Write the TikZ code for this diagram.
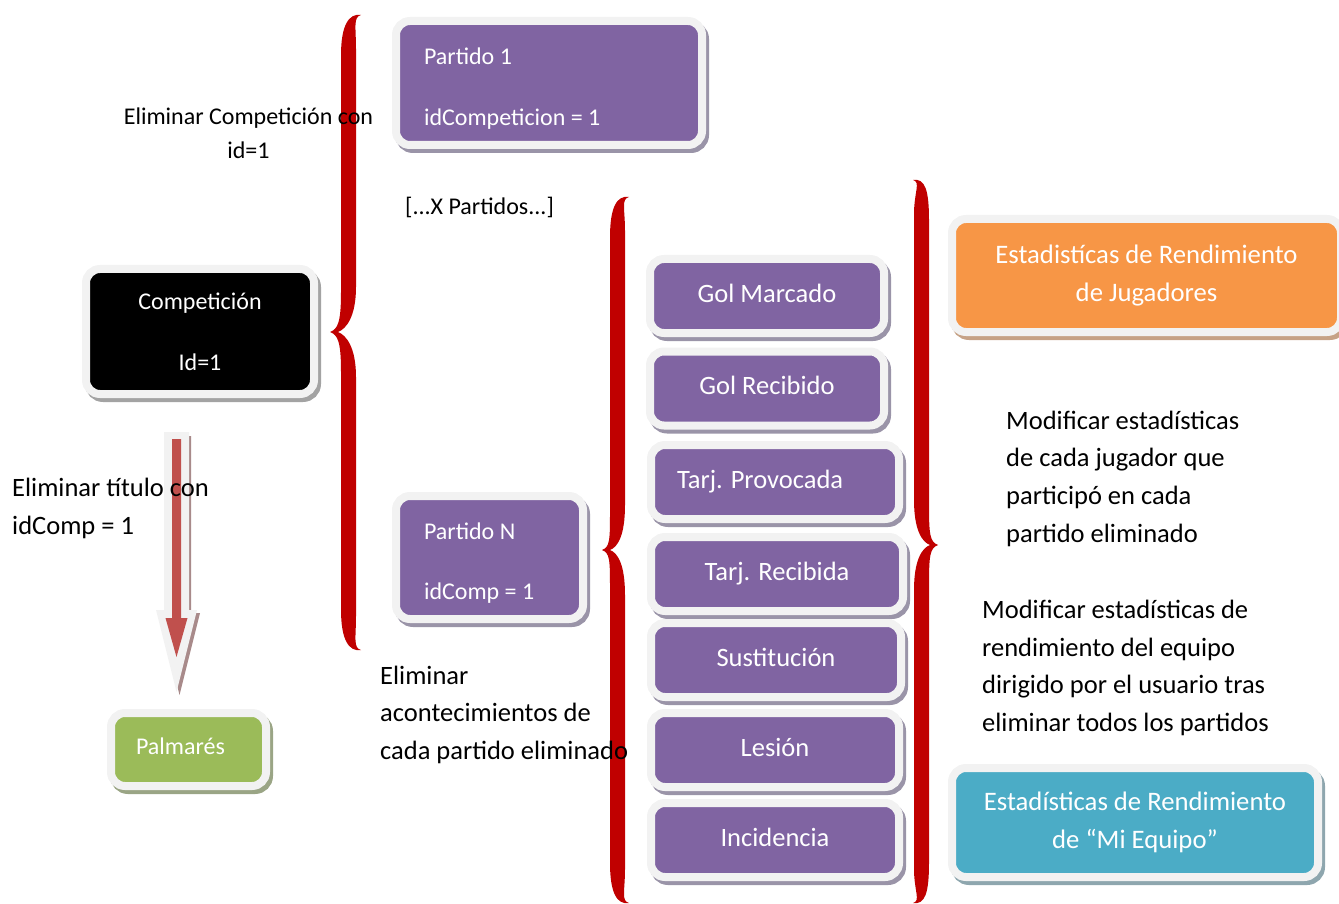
\documentclass[tikz,border=0pt]{standalone}
\usepackage{fontspec}
\setmainfont{Carlito}
\usetikzlibrary{shadows}

\definecolor{purp}{HTML}{8064A2}
\definecolor{purpshadow}{HTML}{9A94A8}
\definecolor{greyshadow}{HTML}{A3A3A3}
\definecolor{greenbox}{HTML}{9BBB59}
\definecolor{greenshadow}{HTML}{9AA585}
\definecolor{orangebox}{HTML}{F79646}
\definecolor{orangeshadow}{HTML}{C6A286}
\definecolor{bluebox}{HTML}{4BACC6}
\definecolor{blueshadow}{HTML}{8EA6AE}
\definecolor{rim}{HTML}{F2F2F2}
\definecolor{bracered}{HTML}{C00000}
\definecolor{arrowred}{HTML}{C0504D}
\definecolor{arrowshadow}{HTML}{A88A8A}

\newcommand\fsz[2]{\fontsize{#1}{#2}\selectfont}

% thick tapered curly brace
% #1 end x, #2 spine x, #3 tip x, #4 top y, #5 middle y, #6 bottom y,
% #7 side: 1 = opening brace, -1 = closing brace
\newcommand\curlybrace[7]{%
\fill[bracered] (#1,#4)
 .. controls ({#1-(#7)*12},{#4-2}) and ({#2-(#7)*8},{#4+10}) .. ({#2-(#7)*8},{#4+40})
 -- ({#2-(#7)*8},{#5-40})
 .. controls ({#2-(#7)*8},{#5-10}) and ({#3+(#7)*8},{#5-3}) .. (#3,#5)
 .. controls ({#3+(#7)*8},{#5+3}) and ({#2-(#7)*8},{#5+10}) .. ({#2-(#7)*8},{#5+40})
 -- ({#2-(#7)*8},{#6-40})
 .. controls ({#2-(#7)*8},{#6-10}) and ({#1-(#7)*12},{#6+2}) .. (#1,#6)
 .. controls ({#1-(#7)*8},{#6-2}) and ({#2+(#7)*7},{#6-12}) .. ({#2+(#7)*7},{#6-34})
 -- ({#2+(#7)*7},{#5+45})
 .. controls ({#2+(#7)*7},{#5+15}) and ({#3+(#7)*16},{#5+3}) .. ({#3+(#7)*8},#5)
 .. controls ({#3+(#7)*16},{#5-3}) and ({#2+(#7)*7},{#5-15}) .. ({#2+(#7)*7},{#5-45})
 -- ({#2+(#7)*7},{#4+34})
 .. controls ({#2+(#7)*7},{#4+12}) and ({#1-(#7)*8},{#4+2}) .. (#1,#4) -- cycle;}

\tikzset{
  tile/.style 2 args={
    rectangle, rounded corners=14pt, draw=rim, line width=8pt, fill=#1,
    text=white, inner sep=0pt,
    general shadow={shadow xshift=3pt, shadow yshift=-4pt,
      fill=#2, draw=#2, line width=8pt}},
  lbl/.style={inner sep=0pt, text=black}
}

\begin{document}
\begin{tikzpicture}[x=1pt,y=-1pt]
\useasboundingbox (0,0) rectangle (1339,904);

% matches and competition
\node[tile={purp}{purpshadow}, minimum width=306pt, minimum height=124pt,
      text width=250pt, align=flush left, font=\fsz{24}{61}] (p1) at (549,83)
      {\rule{0pt}{27pt}Partido 1\\idCompeticion = 1};
\node[tile={black}{greyshadow}, minimum width=228pt, minimum height=125pt,
      align=center, font=\fsz{24}{61}] (comp) at (200,331.5)
      {Competición\\Id=1};
\node[tile={purp}{purpshadow}, minimum width=187pt, minimum height=123pt,
      text width=131pt, align=flush left, font=\fsz{24}{60}] (pn) at (489.5,557.5)
      {\rule{0pt}{27pt}Partido N\\idComp = 1};
\node[tile={greenbox}{greenshadow}, minimum width=155pt, minimum height=73pt,
      text width=105pt, align=flush left, font=\fsz{24}{30},
      text height=17pt, text depth=8pt] (palm) at (188.5,749.5)
      {Palmarés};

% match events
\begin{scope}[every node/.style={tile={purp}{purpshadow}, minimum height=74pt,
      align=center, font=\fsz{26.5}{32}, text height=18pt, text depth=6pt}]
\node[minimum width=234pt] (gm) at (767,296) {Gol Marcado};
\node[minimum width=234pt] (gr) at (767,388.5) {Gol Recibido};
\node[minimum width=248pt, text width=196pt, align=flush left] (tp) at (775,482) {Tarj. Provocada};
\node[minimum width=252pt] (tr) at (777,574) {Tarj. Recibida};
\node[minimum width=250pt] (su) at (776,660) {Sustitución};
\node[minimum width=248pt] (le) at (775,750) {Lesión};
\node[minimum width=248pt] (in) at (775,840) {Incidencia};
\end{scope}

% statistics
\node[tile={orangebox}{orangeshadow}, minimum width=389pt, minimum height=113pt,
      align=center, font=\fsz{26.7}{38}] (ej) at (1146.5,275.5)
      {Estadistícas de Rendimiento\\de Jugadores};
\node[tile={bluebox}{blueshadow}, minimum width=366pt, minimum height=109pt,
      align=center, font=\fsz{26.7}{38}] (em) at (1135,822.5)
      {Estadísticas de Rendimiento\\de “Mi Equipo”};

% braces
\curlybrace{361}{349}{330}{15}{332}{650}{1}
\curlybrace{629}{618}{602}{197}{550}{903}{1}
\curlybrace{913}{921}{938}{180}{545}{903}{-1}

% block arrow from the competition down to the trophies
\coordinate (arrtop) at (176.5,432);
\coordinate (arrtip) at (176.5,692);
\fill[arrowshadow] (167,436) -- (191,436) -- (191,613) -- (200,613)
  -- (179.5,695) -- (159,613) -- (167,613) -- cycle;
\fill[rim] (164,432) -- (189,432) -- (189,610) -- (197,610)
  -- (arrtip) -- (156,610) -- (164,610) -- cycle;
\fill[arrowred] (172,439) -- (181,439) -- (181,618) -- (187.5,618)
  -- (176.5,657) -- (165.5,618) -- (172,618) -- cycle;

% labels
\node[lbl, align=center, font=\fsz{24}{34}] (t1) at (248.5,133)
  {Eliminar Competición con\\id=1};
\node[lbl, anchor=west, font=\fsz{24}{30}] (t2) at (405,207)
  {[...X Partidos...]};
\node[lbl, anchor=west, align=left, font=\fsz{26.5}{38}] (t3) at (12,508)
  {Eliminar título con\\idComp = 1};
\node[lbl, anchor=west, align=left, font=\fsz{26.5}{37.5}] (t4) at (380,714.5)
  {Eliminar\\acontecimientos de\\cada partido eliminado};
\node[lbl, anchor=west, align=left, font=\fsz{26.5}{37.7}] (t5) at (1006,478.5)
  {Modificar estadísticas\\de cada jugador que\\participó en cada\\partido eliminado};
\node[lbl, anchor=west, align=left, font=\fsz{26.5}{37.7}] (t6) at (982,668)
  {Modificar estadísticas de\\rendimiento del equipo\\dirigido por el usuario tras\\eliminar todos los partidos};
\end{tikzpicture}
\end{document}
